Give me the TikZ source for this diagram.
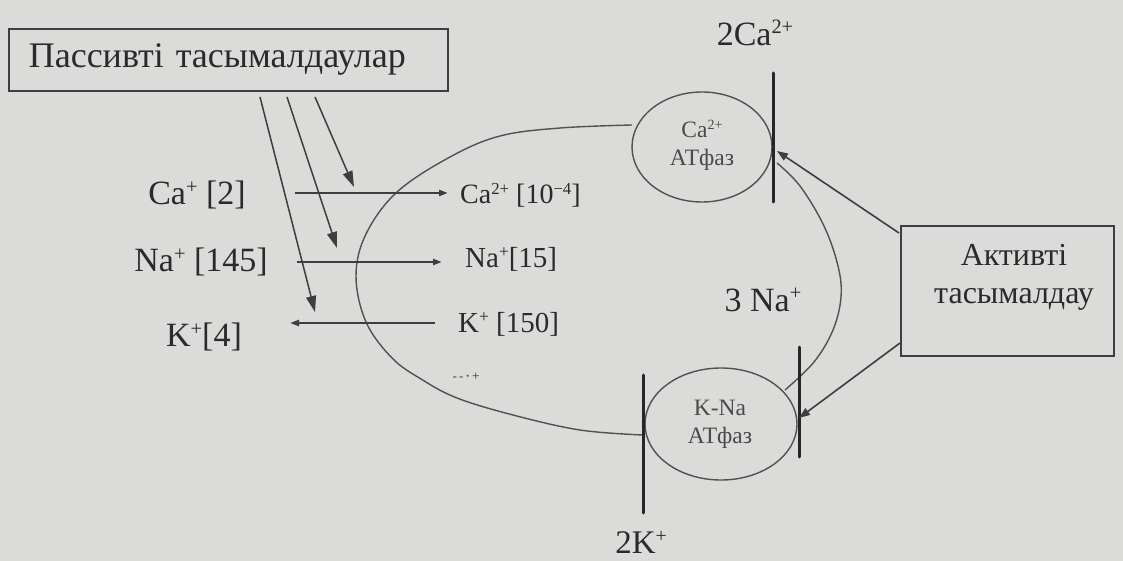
\documentclass[tikz,border=0pt]{standalone}
\usepackage{fontspec}
\setmainfont{Liberation Serif}
\usetikzlibrary{arrows.meta,shapes.geometric}
\definecolor{bg}{RGB}{219,219,217}
\definecolor{ink}{RGB}{42,42,42}
\definecolor{lin}{RGB}{62,62,62}
\newcommand{\sps}[1]{\raisebox{0.72ex}{\scalebox{0.6}{#1}}}
\begin{document}
\begin{tikzpicture}[x=1pt,y=-1pt,
  big/.style={inner sep=0pt, text=ink, font=\fontsize{34}{38}\selectfont},
  mid/.style={inner sep=0pt, text=ink, font=\fontsize{29}{33}\selectfont},
  small/.style={inner sep=0pt, text=ink!85, font=\fontsize{23.5}{28}\selectfont, align=center},
  box/.style={draw=lin, line width=1.6pt, fill=bg},
  cell/.style={draw=lin!90, line width=1.4pt},
  atp/.style={ellipse, draw=lin!90, line width=1.4pt, inner sep=0pt},
  bar/.style={draw=black!85, line width=3pt, line cap=round},
  ion/.style={draw=lin, line width=2.5pt, -{Triangle[length=9pt,width=6pt]}},
  parr/.style={draw=lin, line width=1.5pt, -{Triangle[length=16pt,width=10pt]}},
  aarr/.style={draw=lin, line width=1.6pt, -{Triangle[length=11pt,width=8pt]}}
]
\fill[bg] (0,0) rectangle (1123,561);
\useasboundingbox (0,0) rectangle (1123,561);

% passive box
\node[big, box, anchor=north west, minimum height=62pt, text width=399pt, inner xsep=20pt, inner ysep=0pt, align=left, font=\fontsize{36}{38}\selectfont] (pbox) at (8,28) {Пассивті тасымалдаулар};

% active box
\node[box, anchor=north west, minimum width=213pt, minimum height=130pt] (abox) at (900,225) {};
\node[big, align=center, font=\fontsize{32}{38}\selectfont] (atext) at (1014,277) {Активті\\тасымалдау};

% outside ion labels
\node[big] (caout) at (197,195) {Ca\sps{+} [2]};
\node[big] (naout) at (201,262) {Na\sps{+} [145]};
\node[big] (kout) at (204,337) {K\sps{+}[4]};

% inside ion labels
\node[mid, anchor=west, font=\fontsize{28}{30}\selectfont] (cain) at (460,195) {Ca\sps{2+} [10\sps{−4}]};
\node[mid, anchor=west] (nain) at (465,259) {Na\sps{+}[15]};
\node[mid, anchor=west] (kin) at (458,324) {K\sps{+} [150]};
\node[inner sep=0pt, text=ink!80, font=\bfseries\fontsize{13}{14}\selectfont] (dots) at (466,377) {-\,-\,·\,+};

% ATPases
\node[atp, minimum width=140pt, minimum height=110pt] (caatp) at (702,147) {};
\node[small] (catxt) at (702,145) {Ca\sps{2+}\\АТфаз};
\node[atp, minimum width=152pt, minimum height=112pt] (knaatp) at (721,424) {};
\node[small] (knatxt) at (720,424) {K-Na\\АТфаз};

% other labels
\node[big] (ca2) at (755,33) {2Ca\sps{2+}};
\node[big] (na3) at (763,300) {3 Na\sps{+}};
\node[big, font=\fontsize{33}{36}\selectfont] (k2) at (641,542) {2K\sps{+}};

% cell membrane
\coordinate (ctop) at (632,125);
\coordinate (cbot) at (643,435);
\draw[cell] plot[smooth, tension=0.6] coordinates {(ctop) (560,128) (500,136) (450,157) (397,192) (366,234) (356,276) (366,322) (392,358) (421,379) (457,398) (513,415) (580,430) (cbot)};
\coordinate (rtop) at (777,163);
\coordinate (rbot) at (785,390);
\draw[cell] plot[smooth, tension=0.6] coordinates {(rtop) (800,186) (824,226) (838,266) (841,297) (833,330) (814,362) (rbot)};

% bars
\coordinate (cab1) at (773,73);
\coordinate (cab2) at (773,202);
\draw[bar] (cab1) -- (cab2);
\coordinate (kl1) at (643,375);
\coordinate (kl2) at (643,513);
\draw[bar] (kl1) -- (kl2);
\coordinate (kr1) at (799,347);
\coordinate (kr2) at (799,457);
\draw[bar] (kr1) -- (kr2);

% ion lines
\coordinate (ca1) at (295,193);
\coordinate (ca2e) at (448,193);
\draw[ion] (ca1) -- (ca2e);
\coordinate (na1) at (297,262);
\coordinate (na2) at (442,262);
\draw[ion] (na1) -- (na2);
\coordinate (k1) at (435,323);
\coordinate (k2e) at (290,323);
\draw[ion] (k1) -- (k2e);

% passive arrows
\coordinate (p1) at (260,97);
\coordinate (p1e) at (315,312);
\coordinate (p2) at (287,97);
\coordinate (p2e) at (337,248);
\coordinate (p3) at (315,97);
\coordinate (p3e) at (354,187);
\draw[parr] (p1) -- (p1e);
\draw[parr] (p2) -- (p2e);
\draw[parr] (p3) -- (p3e);

% active arrows
\coordinate (a1) at (899,233);
\coordinate (a1e) at (777,151);
\coordinate (a2) at (900,343);
\coordinate (a2e) at (799,418);
\draw[aarr] (a1) -- (a1e);
\draw[aarr] (a2) -- (a2e);
\end{tikzpicture}
\end{document}
